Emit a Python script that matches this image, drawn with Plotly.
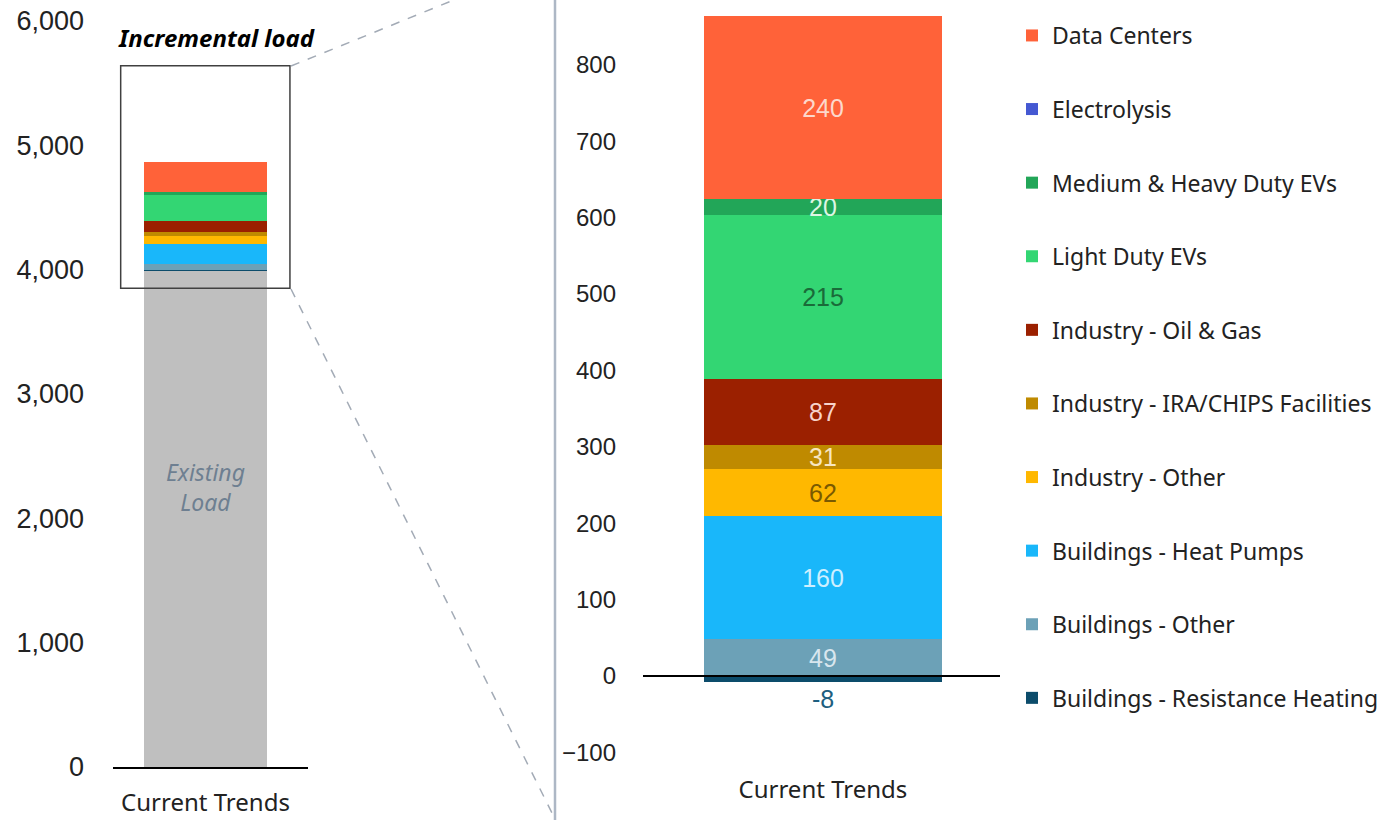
import plotly.graph_objects as go

# ---------------- data ----------------
categories = ["Current Trends"]
existing_load = [4000]

# stacked from bottom to top
series_names = [
    "Buildings - Resistance Heating",
    "Buildings - Other",
    "Buildings - Heat Pumps",
    "Industry - Other",
    "Industry - IRA/CHIPS Facilities",
    "Industry - Oil & Gas",
    "Light Duty EVs",
    "Medium & Heavy Duty EVs",
    "Electrolysis",
    "Data Centers",
]
series_values = [-8, 49, 160, 62, 31, 87, 215, 20, 0, 240]
series_colors = [
    "#0C4C6B", "#6CA1B7", "#19B7FA", "#FFB800", "#BF8A00",
    "#9B2000", "#33D673", "#22A658", "#4458D2", "#FF6239",
]
label_colors = [
    "#1E5F80", "#D8E6EE", "#CDEFFF", "#7A5A00", "#F7E6C2",
    "#F7D2CA", "#1A6B39", "#DDF6E4", "#FFFFFF", "#FCD8CC",
]
left_ticks = [0, 1000, 2000, 3000, 4000, 5000, 6000]
right_ticks = [-100, 0, 100, 200, 300, 400, 500, 600, 700, 800]
zoom_window = [3850, 5640]

W, H = 1381, 820


def px_x(p):
    return p / W


def px_y(p):
    return 1 - p / H


fig = go.Figure()

# ---------------- left: full load ----------------
neg_total = sum(v for v in series_values if v < 0)
fig.add_trace(go.Bar(
    x=categories, y=[existing_load[0] + neg_total], base=[0], width=0.631,
    marker=dict(color="#BFBFBF", line=dict(width=0)),
    showlegend=False, xaxis="x", yaxis="y", name="Existing Load",
))
pos_cum = 0
neg_cum = 0
for name, v, c in zip(series_names, series_values, series_colors):
    if v >= 0:
        base = existing_load[0] + pos_cum
        pos_cum += v
        y = v
    else:
        base = existing_load[0] + neg_total + neg_cum
        neg_cum += -v
        y = -v
    fig.add_trace(go.Bar(
        x=categories, y=[y], base=[base], width=0.631,
        marker=dict(color=c, line=dict(width=0)),
        showlegend=False, xaxis="x", yaxis="y", name=name,
    ))

# ---------------- right: incremental load ----------------
pos_cum = 0
neg_cum = 0
n = len(series_names)
for i, (name, v, c, lc) in enumerate(zip(series_names, series_values, series_colors, label_colors)):
    if v >= 0:
        base = pos_cum
        pos_cum += v
    else:
        base = neg_cum
        neg_cum += v
    fig.add_trace(go.Bar(
        x=categories, y=[v], base=[base], width=0.667,
        marker=dict(color=c, line=dict(width=0)),
        text=[str(v)] if v != 0 else [""],
        textposition="outside" if v < 0 else "inside",
        insidetextanchor="middle",
        textangle=0,
        constraintext="none",
        cliponaxis=False,
        textfont=dict(family="Liberation Sans, Arial, sans-serif", size=25, color=lc),
        name=name, legendgroup=name, legendrank=n - i, showlegend=True,
        xaxis="x2", yaxis="y2",
    ))

tick_font_l = dict(family="Liberation Sans, Arial, sans-serif", size=27, color="#222222")
tick_font_r = dict(family="Liberation Sans, Arial, sans-serif", size=24, color="#222222")
cat_font = dict(family="Noto Sans, sans-serif", size=24, color="#222222")

fig.update_layout(
    width=W, height=H,
    margin=dict(l=0, r=0, t=0, b=0, autoexpand=False),
    paper_bgcolor="white", plot_bgcolor="white",
    barmode="overlay",
    bargap=0,
    legend=dict(
        x=px_x(1012), xanchor="left",
        y=px_y(14), yanchor="top",
        font=dict(family="Noto Sans, sans-serif", size=23, color="#222222"),
        traceorder="grouped",
        tracegroupgap=40.7,
        bgcolor="rgba(0,0,0,0)",
    ),
    xaxis=dict(
        domain=[px_x(113), px_x(308)], anchor="y", automargin=False,
        type="category", range=[-0.4744, 0.5256],
        showline=True, linecolor="black", linewidth=2,
        ticks="", showgrid=False, zeroline=False,
        tickfont=cat_font, ticklabelstandoff=13,
    ),
    yaxis=dict(
        domain=[(H - 767) / H, 1], anchor="x", automargin=False,
        range=[0, 767 / 0.12433],
        tickvals=left_ticks, tickformat=",",
        showgrid=False, zeroline=False, showline=False, ticks="",
        tickfont=tick_font_l, ticklabelstandoff=28,
    ),
    xaxis2=dict(
        domain=[px_x(643), px_x(1000)], anchor="y2", automargin=False,
        type="category", range=[-0.504, 0.496],
        showline=False, ticks="", showgrid=False, zeroline=False,
        tickfont=cat_font, ticklabelstandoff=8,
    ),
    yaxis2=dict(
        domain=[(H - 765) / H, 1], anchor="x2", automargin=False,
        range=[-(765 - 676) / 0.764, 676 / 0.764],
        tickvals=right_ticks,
        showgrid=False, zeroline=False, showline=False, ticks="",
        tickfont=tick_font_r, ticklabelstandoff=26,
    ),
)

shapes = [
    # zoom rectangle on the left chart
    dict(type="rect", xref="x", yref="y", x0=-0.435, x1=0.433,
         y0=zoom_window[0], y1=zoom_window[1],
         line=dict(color="#404040", width=1.5), fillcolor="rgba(0,0,0,0)", layer="above"),
    # dashed connectors
    dict(type="line", xref="paper", yref="paper",
         x0=px_x(291), y0=px_y(66), x1=px_x(555), y1=px_y(-41),
         line=dict(color="#A3ABB6", width=1.5, dash="dash")),
    dict(type="line", xref="paper", yref="paper",
         x0=px_x(291), y0=px_y(289), x1=px_x(553), y1=px_y(815),
         line=dict(color="#A3ABB6", width=1.5, dash="dash")),
    # separator
    dict(type="line", xref="paper", yref="paper",
         x0=px_x(555), y0=0, x1=px_x(555), y1=1,
         line=dict(color="#ADB7C5", width=2.5)),
    # zero line on right chart
    dict(type="line", xref="x2 domain", yref="y2", x0=0, x1=1, y0=0, y1=0,
         line=dict(color="black", width=2), layer="above"),
]
fig.update_layout(shapes=shapes)

fig.add_annotation(
    text="<b><i>Incremental load</i></b>", xref="paper", yref="paper",
    x=px_x(116), y=px_y(37), xanchor="left", yanchor="middle", showarrow=False,
    font=dict(family="Noto Sans, sans-serif", size=24, color="black"),
)
fig.add_annotation(
    text="<i>Existing<br>Load</i>", xref="x", yref="y",
    x=0, y=2250, xanchor="center", yanchor="middle", showarrow=False,
    font=dict(family="Noto Sans, sans-serif", size=23, color="#6E7F91"),
)

fig.write_html("out.html")
